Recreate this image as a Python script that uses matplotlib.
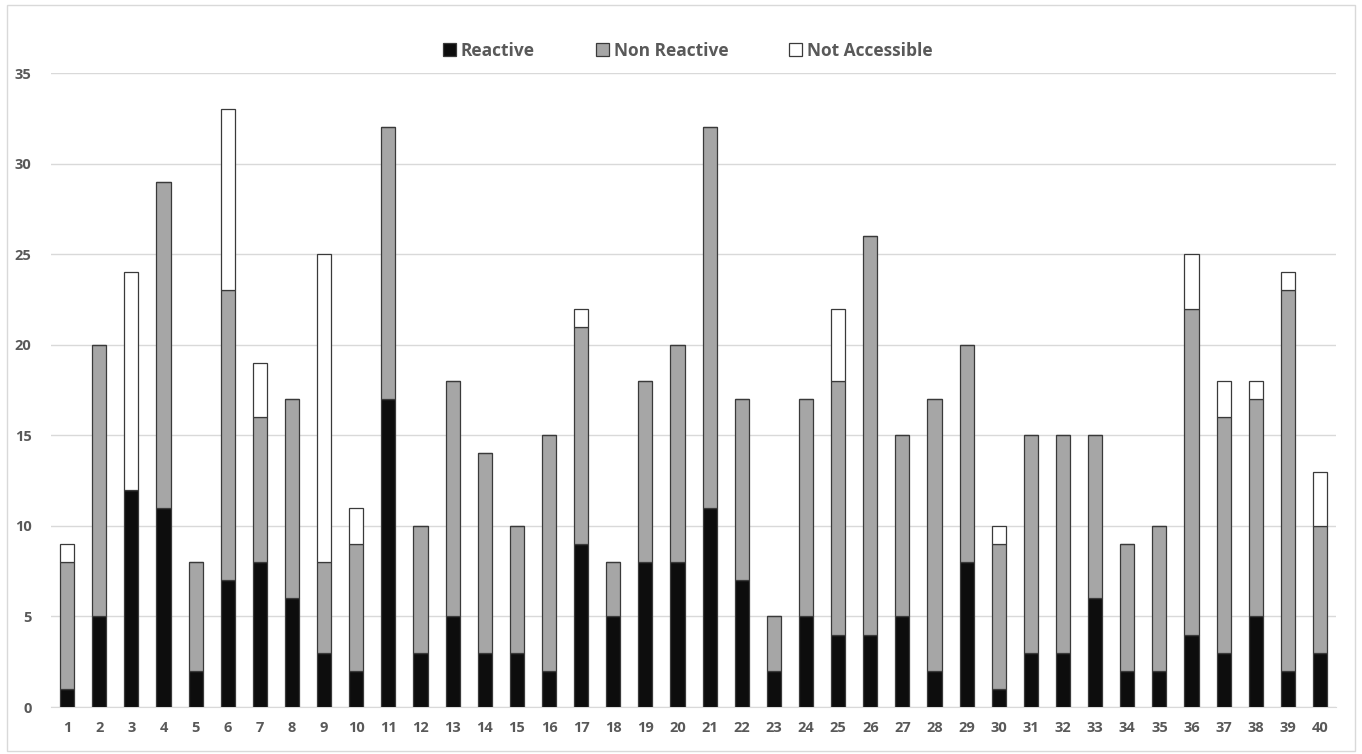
import numpy as np
import matplotlib.pyplot as plt
from matplotlib.patches import Rectangle

plt.rcParams['font.family'] = ['Open Sans', 'DejaVu Sans']

sites = list(range(1, 41))
reactive = [1, 5, 12, 11, 2, 7, 8, 6, 3, 2, 17, 3, 5, 3, 3, 2, 9, 5, 8, 8,
            11, 7, 2, 5, 4, 4, 5, 2, 8, 1, 3, 3, 6, 2, 2, 4, 3, 5, 2, 3]
non_reactive = [7, 15, 0, 18, 6, 16, 8, 11, 5, 7, 15, 7, 13, 11, 7, 13, 12, 3, 10, 12,
                21, 10, 3, 12, 14, 22, 10, 15, 12, 8, 12, 12, 9, 7, 8, 18, 13, 12, 21, 7]
not_accessible = [1, 0, 12, 0, 0, 10, 3, 0, 17, 2, 0, 0, 0, 0, 0, 0, 1, 0, 0, 0,
                  0, 0, 0, 0, 4, 0, 0, 0, 0, 1, 0, 0, 0, 0, 0, 3, 2, 1, 1, 3]

txt = '#595959'
edge = '#3a3a3a'

fig = plt.figure(figsize=(13.62, 7.54), dpi=100)
ax = fig.add_axes([0.0375, 0.0623, 0.9435, 0.8407])

x = np.array(sites)
r = np.array(reactive)
n = np.array(non_reactive)
a = np.array(not_accessible)
w = 0.44
ax.bar(x, r, w, color='#0d0d0d', edgecolor=edge, linewidth=0.9, label='Reactive', zorder=3)
ax.bar(x, n, w, bottom=r, color='#a6a6a6', edgecolor=edge, linewidth=0.9, label='Non Reactive', zorder=3)
ax.bar(x, a, w, bottom=r + n, color='white', edgecolor=edge, linewidth=0.9, label='Not Accessible', zorder=3)

ax.set_xlim(0.5, 40.5)
ax.set_ylim(0, 35)
ax.set_yticks(range(0, 36, 5))
ax.set_xticks(x)
ax.set_xticklabels([str(s) for s in sites])
ax.grid(axis='y', color='#d9d9d9', linewidth=1, zorder=0)
for s in ['top', 'right', 'left']:
    ax.spines[s].set_visible(False)
ax.spines['bottom'].set_color('#d9d9d9')
ax.tick_params(length=0, labelsize=10.5, labelcolor=txt)
ax.tick_params(axis='y', pad=14)
ax.tick_params(axis='x', pad=10)
for lab in ax.get_xticklabels() + ax.get_yticklabels():
    lab.set_fontweight('bold')

leg = fig.legend(loc='center', bbox_to_anchor=(0.505, 0.933), ncol=3, frameon=False,
                 handlelength=0.75, handleheight=0.75, handletextpad=0.3,
                 columnspacing=3.5, prop={'size': 12.5, 'weight': 'bold'})
for t in leg.get_texts():
    t.set_color(txt)

# outer chart border
fig.patches.append(Rectangle((0.005, 0.004), 0.99, 0.99, transform=fig.transFigure,
                             fill=False, edgecolor='#d9d9d9', linewidth=1))

fig.savefig('out.png', dpi=100)
